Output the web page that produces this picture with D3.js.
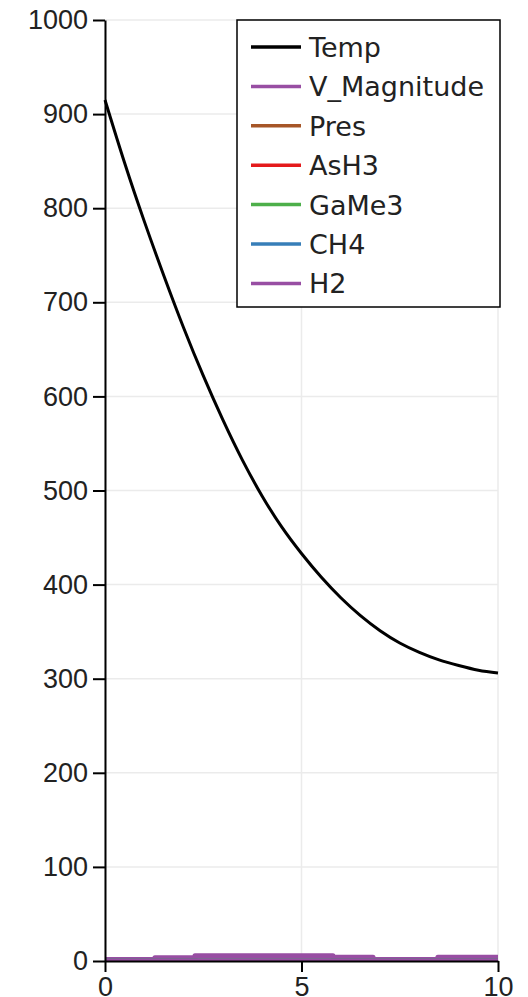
<!DOCTYPE html>
<html>
<head>
<meta charset="utf-8">
<script src="https://cdn.jsdelivr.net/npm/d3@7"></script>
<style>
  body { margin: 0; background: #fff; }
  svg { display: block; }
</style>
</head>
<body>
<svg id="chart" width="528" height="997"></svg>
<script>
// values
var tempX = [0, 0.5, 1, 1.5, 2, 2.5, 3, 3.5, 4, 4.5, 5, 5.5, 6, 6.5, 7, 7.5, 8, 8.5, 9, 9.5, 10];
var tempY = [915, 848, 786, 728, 673, 622, 575, 532, 494, 461, 433, 408, 386, 367, 351, 338, 328, 320, 314, 309, 306];

// velocity magnitude is stepwise near the bottom
var velX = [0, 1.27, 2.29, 5.8, 6.82, 8.47, 10];
var velY = [1.5, 3.5, 5.5, 4, 1.5, 4, 4];

var zeroX = [0, 10];
var zeroY = [0, 0];

var seriesNames = ["Temp", "V_Magnitude", "Pres", "AsH3", "GaMe3", "CH4", "H2"];
var seriesColors = ["#000000", "#984ea3", "#a65628", "#e41a1c", "#4daf4a", "#377eb8", "#984ea3"];

var yTicks = [0, 100, 200, 300, 400, 500, 600, 700, 800, 900, 1000];
var xTicks = [0, 5, 10];

function zip(xs, ys) {
  var out = [];
  for (var i = 0; i < xs.length; i++) {
    out.push({x: xs[i], y: ys[i]});
  }
  return out;
}

var series = [
  {name: "Temp", data: zip(tempX, tempY), curve: d3.curveNatural, width: 3},
  {name: "V_Magnitude", data: zip(velX, velY), curve: d3.curveStepAfter, width: 5},
  {name: "Pres", data: zip(zeroX, zeroY), curve: d3.curveLinear, width: 5},
  {name: "AsH3", data: zip(zeroX, zeroY), curve: d3.curveLinear, width: 5},
  {name: "GaMe3", data: zip(zeroX, zeroY), curve: d3.curveLinear, width: 5},
  {name: "CH4", data: zip(zeroX, zeroY), curve: d3.curveLinear, width: 5},
  {name: "H2", data: zip(zeroX, zeroY), curve: d3.curveLinear, width: 5}
];

var svg = d3.select("#chart"),
    margin = {top: 20, right: 30, bottom: 36, left: 105},
    width = +svg.attr("width") - margin.left - margin.right,
    height = +svg.attr("height") - margin.top - margin.bottom,
    g = svg.append("g").attr("transform", "translate(" + margin.left + "," + margin.top + ")");

var x = d3.scaleLinear().domain([0, 10]).range([0, width]);
var y = d3.scaleLinear().domain([0, 1000]).range([height, 0]);

var color = d3.scaleOrdinal().domain(seriesNames).range(seriesColors);

svg.append("defs").append("clipPath")
    .attr("id", "plotClip")
  .append("rect")
    .attr("x", -5)
    .attr("y", -5)
    .attr("width", width + 10)
    .attr("height", height + 5);

// grid
g.append("g")
  .selectAll("line")
  .data(yTicks)
  .enter().append("line")
    .attr("x1", 0)
    .attr("x2", width)
    .attr("y1", function (d) { return y(d); })
    .attr("y2", function (d) { return y(d); })
    .attr("stroke", "#ebebeb")
    .attr("stroke-width", 1.5);

g.append("g")
  .selectAll("line")
  .data(xTicks)
  .enter().append("line")
    .attr("x1", function (d) { return x(d); })
    .attr("x2", function (d) { return x(d); })
    .attr("y1", 0)
    .attr("y2", height)
    .attr("stroke", "#ebebeb")
    .attr("stroke-width", 1.5);

// lines
var line = d3.line()
    .x(function (d) { return x(d.x); })
    .y(function (d) { return y(d.y); });

var lines = g.append("g").attr("clip-path", "url(#plotClip)");

series.forEach(function (s) {
  lines.append("path")
    .datum(s.data)
    .attr("fill", "none")
    .attr("stroke", color(s.name))
    .attr("stroke-width", s.width)
    .attr("stroke-linejoin", "round")
    .attr("d", line.curve(s.curve));
});

// axes
var yAxis = g.append("g")
    .call(d3.axisLeft(y).tickValues(yTicks).tickFormat(d3.format("d")).tickSize(12).tickSizeOuter(0).tickPadding(5));

var xAxis = g.append("g")
    .attr("transform", "translate(0," + height + ")")
    .call(d3.axisBottom(x).tickValues(xTicks).tickFormat(d3.format("d")).tickSize(11).tickSizeOuter(0).tickPadding(5));

[yAxis, xAxis].forEach(function (a) {
  a.select(".domain").attr("stroke", "#000").attr("stroke-width", 2);
  a.selectAll(".tick line").attr("stroke", "#000").attr("stroke-width", 2);
  a.selectAll(".tick text")
    .attr("fill", "#222")
    .style("font-family", "'Liberation Sans', Arial, sans-serif")
    .style("font-size", "27px");
});

// legend
var legend = svg.append("g").attr("transform", "translate(237,20)");

legend.append("rect")
  .attr("width", 263)
  .attr("height", 287)
  .attr("fill", "#fff")
  .attr("stroke", "#000")
  .attr("stroke-width", 1.5);

var item = legend.selectAll(".item")
  .data(seriesNames)
  .enter().append("g")
    .attr("class", "item")
    .attr("transform", function (d, i) { return "translate(0," + (27 + i * 39.4) + ")"; });

item.append("line")
  .attr("x1", 14)
  .attr("x2", 64)
  .attr("stroke", function (d) { return color(d); })
  .attr("stroke-width", 3.5);

item.append("text")
  .attr("x", 72)
  .attr("dy", "0.37em")
  .attr("fill", "#222")
  .style("font-family", "'DejaVu Sans', sans-serif")
  .style("font-size", "27px")
  .text(function (d) { return d; });
</script>
</body>
</html>
